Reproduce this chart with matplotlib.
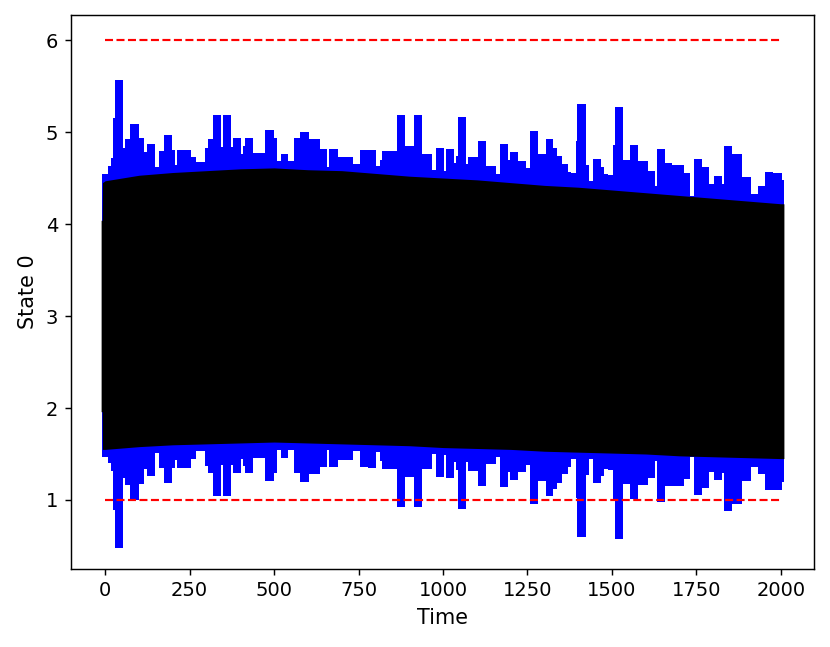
import numpy as np
import matplotlib
matplotlib.use("Agg")
import matplotlib.pyplot as plt

# blue trace: envelope, as steps (start time, top, bottom)
blue_t = [-8, 8, 18, 24, 30, 53, 59, 73, 99, 114, 124, 148, 158, 174, 199, 207, 213, 229,
          254, 268, 294, 304, 320, 343, 349, 373, 379, 402, 408, 414, 438, 464, 473, 499,
          509, 519, 542, 558, 578, 604, 627, 637, 657,
          663, 688, 708, 734, 753, 779, 803, 813, 819, 844, 864, 888, 913, 937, 968, 978,
          1002, 1008, 1032, 1039, 1043, 1067, 1073, 1103, 1128, 1158, 1168, 1191, 1197,
          1221, 1246, 1258, 1282, 1304, 1327, 1337,
          1353, 1369, 1379, 1393, 1398, 1422, 1432, 1444, 1468, 1477, 1487, 1503, 1509,
          1533, 1554, 1578, 1606, 1627, 1633, 1657, 1679, 1712, 1732, 1744, 1767, 1787,
          1803, 1826, 1832, 1856, 1886, 1911, 1933, 1953, 1976, 2002]
blue_end = 2008
blue_hi = [4.54, 4.63, 4.72, 5.15, 5.57, 4.83, 4.92, 5.09, 4.93, 4.78, 4.87, 4.62, 4.79, 4.97,
           4.80, 4.64, 4.80, 4.81, 4.73, 4.67, 4.83, 4.92, 5.18, 4.84, 5.18, 4.84, 4.93, 4.76,
           4.85, 4.93, 4.77, 4.77, 5.02, 4.93, 4.69, 4.76, 4.68, 4.93, 5.00, 4.92, 4.92, 4.82,
           4.62,
           4.82, 4.73, 4.73, 4.65, 4.81, 4.80, 4.63, 4.70, 4.79, 4.79, 5.19, 4.85, 5.19, 4.76,
           4.59, 4.83, 4.58, 4.82, 4.66, 4.74, 5.16, 4.65, 4.73, 4.90, 4.63, 4.54, 4.87, 4.70,
           4.78, 4.69, 4.61, 5.01, 4.76, 4.92, 4.83, 4.74,
           4.65, 4.57, 4.56, 4.90, 5.31, 4.64, 4.47, 4.71, 4.62, 4.54, 4.53, 4.86, 5.27, 4.70,
           4.86, 4.68, 4.58, 4.41, 4.82, 4.66, 4.64, 4.55, 4.30, 4.71, 4.62, 4.44, 4.52, 4.44,
           4.85, 4.76, 4.51, 4.33, 4.41, 4.57, 4.56, 4.48]
blue_lo = [1.47, 1.40, 1.31, 0.89, 0.48, 1.24, 1.16, 1.00, 1.17, 1.34, 1.26, 1.51, 1.35, 1.18,
           1.35, 1.43, 1.35, 1.35, 1.45, 1.53, 1.37, 1.29, 1.04, 1.38, 1.04, 1.38, 1.29, 1.45,
           1.37, 1.29, 1.46, 1.46, 1.21, 1.29, 1.54, 1.46, 1.54, 1.29, 1.20, 1.28, 1.28, 1.36,
           1.54,
           1.36, 1.44, 1.44, 1.53, 1.36, 1.35, 1.52, 1.42, 1.34, 1.34, 0.92, 1.25, 0.92, 1.34,
           1.50, 1.25, 1.49, 1.24, 1.41, 1.33, 0.90, 1.41, 1.32, 1.15, 1.39, 1.47, 1.14, 1.30,
           1.22, 1.30, 1.38, 0.96, 1.21, 1.04, 1.12, 1.19,
           1.28, 1.36, 1.45, 1.02, 0.60, 1.27, 1.45, 1.18, 1.26, 1.34, 1.33, 1.01, 0.58, 1.17,
           1.01, 1.16, 1.24, 1.42, 0.98, 1.15, 1.15, 1.23, 1.47, 1.05, 1.13, 1.30, 1.22, 1.29,
           0.88, 0.96, 1.21, 1.36, 1.28, 1.11, 1.11, 1.20]

# black trace: smooth envelope
black_t = [-12, -9, -8, 0, 100, 200, 300, 400, 500, 600, 700, 800, 900, 1000, 1100, 1200,
           1300, 1400, 1500, 1600, 1700, 1800, 1900, 2000, 2009]
black_hi = [4.04, 4.04, 4.45, 4.47, 4.53, 4.56, 4.58, 4.60, 4.61, 4.59, 4.58, 4.55, 4.52, 4.50,
            4.48, 4.45, 4.42, 4.40, 4.37, 4.34, 4.31, 4.28, 4.25, 4.22, 4.22]
black_lo = [1.96, 1.96, 1.55, 1.55, 1.58, 1.60, 1.61, 1.62, 1.63, 1.62, 1.61, 1.60, 1.59, 1.57,
            1.56, 1.55, 1.53, 1.52, 1.51, 1.50, 1.48, 1.47, 1.46, 1.45, 1.45]

# bounds
t_bounds = [0, 2000]
upper_bound = 6
lower_bound = 1

fig = plt.figure(figsize=(830 / 130, 647 / 130), dpi=130)
ax = fig.add_axes([0.0852, 0.121, 0.9811 - 0.0852, 0.9768 - 0.121])

x = blue_t + [blue_end]
ax.fill_between(x, blue_hi + [blue_hi[-1]], blue_lo + [blue_lo[-1]],
                step='post', color='blue', lw=0)
ax.fill_between(black_t, black_hi, black_lo, color='black', lw=0)

ax.plot(t_bounds, [upper_bound, upper_bound], 'r--', lw=1.2)
ax.plot(t_bounds, [lower_bound, lower_bound], 'r--', lw=1.2)

ax.set_xlim(-102, 2099)
ax.set_ylim(0.253, 6.272)
ax.set_xticks([0, 250, 500, 750, 1000, 1250, 1500, 1750, 2000])
ax.tick_params(labelsize=10.8)
ax.set_xlabel("Time", fontsize=11.5)
ax.set_ylabel("State 0", fontsize=11.5)

fig.savefig("out.png", dpi=130)
